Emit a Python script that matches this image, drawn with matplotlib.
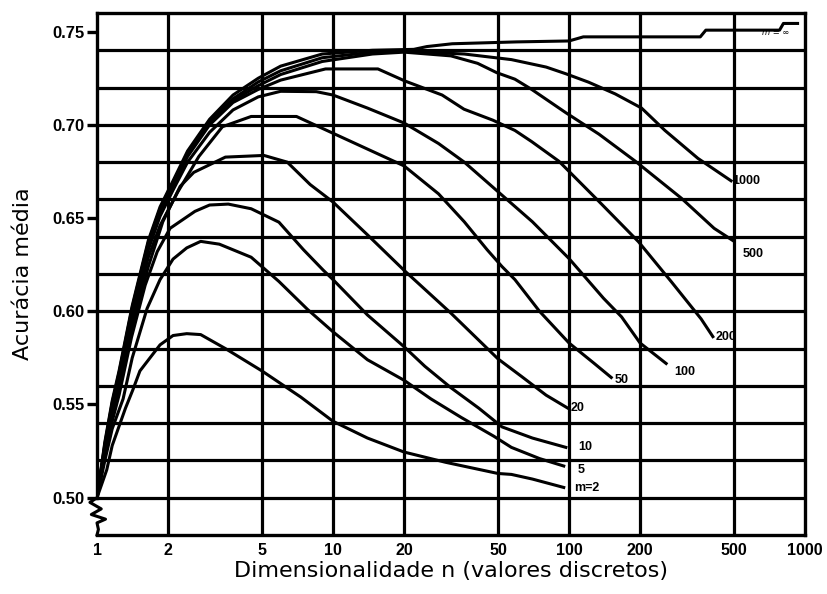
import numpy as np
import matplotlib.pyplot as plt
from matplotlib.transforms import blended_transform_factory

# mean recognition accuracy vs. measurement complexity n, one curve per sample size m
n_inf = [1, 1.08, 1.16, 1.24, 1.41, 1.65, 1.85, 2.1, 2.42, 3.0, 3.77, 4.82, 6.0, 9.0,
         14.7, 22, 25, 32, 60, 100, 115, 360, 380, 780, 810, 930]
acc_inf = [0.50, 0.53, 0.552, 0.568, 0.603, 0.638, 0.656, 0.670, 0.686, 0.703, 0.716,
           0.725, 0.7315, 0.738, 0.7400, 0.7405, 0.742, 0.7435, 0.7445, 0.745, 0.7472,
           0.7472, 0.7508, 0.7508, 0.7544, 0.7544]

n_1000 = [1, 1.08, 1.16, 1.24, 1.41, 1.65, 1.85, 2.1, 2.42, 3.0, 3.77, 4.82, 6.0, 9.0,
          14.7, 20, 36, 57, 80, 97, 121, 157, 203, 255, 352, 486]
acc_1000 = [0.50, 0.529, 0.551, 0.567, 0.602, 0.637, 0.655, 0.669, 0.685, 0.702, 0.714,
            0.723, 0.729, 0.736, 0.739, 0.7395, 0.738, 0.735, 0.731, 0.7274, 0.7229,
            0.7166, 0.709, 0.697, 0.682, 0.670]

n_500 = [1, 1.08, 1.16, 1.24, 1.41, 1.65, 1.85, 2.1, 2.42, 3.0, 3.77, 4.82, 6.0, 9.0,
         14.7, 20, 31.6, 41, 49.4, 59, 69.5, 97, 134, 191, 299, 412, 494]
acc_500 = [0.50, 0.528, 0.550, 0.566, 0.601, 0.636, 0.654, 0.668, 0.684, 0.701, 0.713,
           0.721, 0.727, 0.734, 0.738, 0.739, 0.737, 0.733, 0.728, 0.7245, 0.719,
           0.7065, 0.695, 0.6805, 0.6607, 0.6445, 0.638]

n_200 = [1, 1.08, 1.16, 1.24, 1.41, 1.65, 1.85, 2.1, 2.42, 3.0, 3.77, 4.82, 6.0, 9.3,
         15.5, 20.2, 29, 35.9, 47.6, 59, 69.5, 90.6, 134, 197, 272, 363, 407]
acc_200 = [0.50, 0.527, 0.549, 0.565, 0.600, 0.635, 0.653, 0.667, 0.683, 0.700, 0.712,
           0.719, 0.724, 0.730, 0.730, 0.7235, 0.716, 0.7084, 0.7025, 0.697, 0.691,
           0.6805, 0.6589, 0.6373, 0.6157, 0.5959, 0.5864]

n_100 = [1, 1.08, 1.16, 1.24, 1.41, 1.65, 1.85, 2.1, 2.42, 3.0, 3.77, 4.82, 6.0, 8.5,
         10, 14, 20, 28, 36, 52, 70, 100, 140, 167, 200, 258]
acc_100 = [0.50, 0.527, 0.548, 0.564, 0.599, 0.633, 0.651, 0.665, 0.680, 0.696, 0.708,
           0.715, 0.718, 0.7178, 0.716, 0.709, 0.701, 0.690, 0.680, 0.6623, 0.648,
           0.6283, 0.607, 0.597, 0.583, 0.572]

n_50 = [1, 1.08, 1.16, 1.24, 1.41, 1.65, 1.85, 2.2, 2.7, 3.4, 4.5, 7, 10, 14, 20, 28,
        36, 45, 52, 59, 75, 100, 128, 151]
acc_50 = [0.50, 0.526, 0.546, 0.562, 0.596, 0.629, 0.646, 0.664, 0.683, 0.699, 0.7045,
          0.7045, 0.6955, 0.687, 0.678, 0.663, 0.648, 0.633, 0.624, 0.617, 0.600,
          0.583, 0.572, 0.5645]

n_20 = [1, 1.08, 1.16, 1.24, 1.41, 1.65, 1.9, 2.25, 2.57, 3.5, 5.1, 6.4, 8, 10, 14, 20,
        31.6, 50, 63, 80, 99]
acc_20 = [0.50, 0.525, 0.544, 0.559, 0.592, 0.624, 0.648, 0.667, 0.6745, 0.6827,
          0.6836, 0.680, 0.668, 0.6586, 0.641, 0.622, 0.599, 0.5745, 0.565, 0.555, 0.548]

n_10 = [1, 1.08, 1.16, 1.24, 1.4, 1.6, 1.8, 2.04, 2.6, 3.0, 3.6, 4.5, 5.9, 7.5, 9.1, 10,
        14, 20, 24.5, 31.6, 41.5, 52, 70, 97]
acc_10 = [0.50, 0.523, 0.541, 0.555, 0.586, 0.614, 0.632, 0.6445, 0.6536, 0.657, 0.6575,
          0.655, 0.6478, 0.633, 0.622, 0.617, 0.598, 0.581, 0.5705, 0.559, 0.548, 0.538,
          0.532, 0.527]

n_5 = [1, 1.08, 1.16, 1.29, 1.41, 1.63, 1.85, 2.1, 2.4, 2.75, 3.3, 4.5, 5.9, 7.8, 10, 14,
       20, 26, 35, 48, 57, 75, 95]
acc_5 = [0.50, 0.52, 0.537, 0.553, 0.575, 0.6015, 0.617, 0.628, 0.634, 0.6375, 0.636,
         0.629, 0.616, 0.601, 0.589, 0.574, 0.563, 0.553, 0.543, 0.533, 0.527, 0.521, 0.517]

n_2 = [1, 1.1, 1.16, 1.32, 1.42, 1.52, 1.85, 2.1, 2.4, 2.75, 3.5, 5, 7.3, 10, 14, 20, 30,
       50, 57, 70, 95]
acc_2 = [0.50, 0.515, 0.528, 0.548, 0.558, 0.568, 0.582, 0.587, 0.588, 0.5875, 0.580,
         0.568, 0.554, 0.541, 0.532, 0.5245, 0.519, 0.513, 0.5125, 0.510, 0.5055]

# curve label, text and pixel offset from the last point
curves = [
    (n_inf, acc_inf, None, (0, 0)),
    (n_1000, acc_1000, "1000", (1, 0)),
    (n_500, acc_500, "500", (10, -14)),
    (n_200, acc_200, "200", (3, 0)),
    (n_100, acc_100, "100", (8, -9)),
    (n_50, acc_50, "50", (3, -3)),
    (n_20, acc_20, "20", (3, 0)),
    (n_10, acc_10, "10", (12, 0)),
    (n_5, acc_5, "5", (14, -4)),
    (n_2, acc_2, "m=2", (10, -1)),
]

x_ticks = [1, 2, 5, 10, 20, 50, 100, 200, 500, 1000]
y_ticks = [0.50, 0.55, 0.60, 0.65, 0.70, 0.75]
y_grid = [0.50, 0.52, 0.54, 0.56, 0.58, 0.60, 0.62, 0.64, 0.66, 0.68, 0.70, 0.72, 0.74]

fig = plt.figure(figsize=(8.27, 5.94), dpi=100)
ax = fig.add_axes([97 / 827, 59 / 594, 708 / 827, 522 / 594])
ax.set_xscale("log")
ax.set_xlim(1, 1000)
ax.set_ylim(0.48, 0.76)

lw = 2.3
for x in x_ticks[1:-1]:
    ax.axvline(x, color="black", lw=lw, zorder=1)
for y in y_grid:
    ax.axhline(y, color="black", lw=lw, zorder=1)

for n, acc, label, off in curves:
    ax.plot(n, acc, color="black", lw=2.2, solid_joinstyle="round", zorder=3)
    if label:
        ax.annotate(label, (n[-1], acc[-1]), xytext=off, textcoords="offset pixels",
                    ha="left", va="center", fontsize=9, fontweight="bold",
                    family="Liberation Sans", zorder=4)
ax.text(0.958, 0.962, "m = ∞", transform=ax.transAxes, ha="center", va="center",
        fontsize=6, style="italic")

for s in ["top", "right", "bottom"]:
    ax.spines[s].set_linewidth(2.4)
ax.spines["left"].set_visible(False)

# left axis line with a break below 0.50
tr = blended_transform_factory(ax.transAxes, ax.transData)
ax.plot([0, 0], [0.50, 0.76], color="black", lw=2.4, transform=tr, clip_on=False,
        zorder=5)
zz_x = [0, -0.010, 0.006, -0.008, 0.012, 0.0, 0.002, 0.0]
zz_y = [0.50, 0.4975, 0.494, 0.491, 0.4885, 0.4865, 0.483, 0.48]
ax.plot(zz_x, zz_y, color="black", lw=2.2, transform=tr, clip_on=False, zorder=5)

ax.set_xticks(x_ticks)
ax.set_xticklabels([str(v) for v in x_ticks])
ax.xaxis.set_minor_locator(plt.NullLocator())
ax.set_yticks(y_ticks)
ax.set_yticklabels([f"{v:.2f}" for v in y_ticks])
ax.tick_params(axis="x", length=0, pad=6, labelsize=11.5)
ax.tick_params(axis="y", length=7, width=2.4, pad=2, labelsize=12)
for t in ax.get_xticklabels() + ax.get_yticklabels():
    t.set_fontweight("bold")
    t.set_family("Liberation Sans")

ax.set_xlabel("Dimensionalidade n (valores discretos)", fontsize=16, labelpad=2)
ax.set_ylabel("Acurácia média", fontsize=16, labelpad=14)

fig.savefig("out.png", dpi=100)
